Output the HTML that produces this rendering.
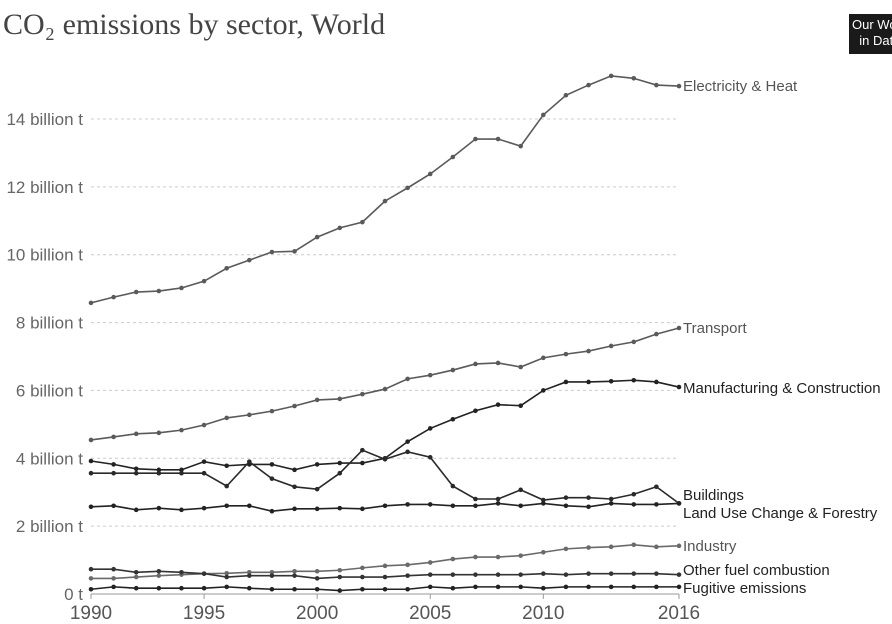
<!DOCTYPE html>
<html><head><meta charset="utf-8"><style>
body{margin:0;background:#fff;width:892px;height:624px;overflow:hidden;font-family:"Liberation Sans",sans-serif}
#title{position:absolute;left:3px;top:8px;font-family:"Liberation Serif",serif;font-size:30px;color:#444}
#logo{position:absolute;left:849px;top:14px;width:50px;height:40px;background:#1a1a1a;color:#fff;font-size:13px;line-height:16px;padding:3px 0 0 3px;box-sizing:border-box;overflow:hidden;white-space:nowrap}
</style></head><body>
<div id="title">CO₂ emissions by sector, World</div>
<div id="logo">Our World<br>&nbsp;&nbsp;in Data</div>
<svg id="chart" width="892" height="624" style="position:absolute;left:0;top:0"></svg>
<script>
const years=[1990,1991,1992,1993,1994,1995,1996,1997,1998,1999,2000,2001,2002,2003,2004,2005,2006,2007,2008,2009,2010,2011,2012,2013,2014,2015,2016];
const yTicks=[0,2,4,6,8,10,12,14];
const yTickLabels=["0 t","2 billion t","4 billion t","6 billion t","8 billion t","10 billion t","12 billion t","14 billion t"];
const xTicks=[1990,1995,2000,2005,2010,2016];
const electricity=[8.58,8.75,8.9,8.93,9.02,9.22,9.6,9.84,10.08,10.1,10.52,10.79,10.96,11.58,11.97,12.38,12.88,13.41,13.41,13.2,14.12,14.7,15.0,15.27,15.2,15.0,14.97];
const transport=[4.54,4.63,4.72,4.75,4.83,4.98,5.19,5.28,5.39,5.54,5.72,5.75,5.89,6.04,6.34,6.45,6.6,6.78,6.81,6.69,6.96,7.07,7.16,7.31,7.43,7.66,7.84];
const manufacturing=[3.92,3.82,3.69,3.66,3.66,3.9,3.78,3.82,3.82,3.66,3.82,3.86,3.86,4.0,4.49,4.88,5.15,5.4,5.58,5.55,6.0,6.25,6.25,6.27,6.3,6.25,6.1];
const buildings=[3.56,3.56,3.56,3.56,3.56,3.56,3.18,3.9,3.4,3.16,3.09,3.56,4.24,3.97,4.19,4.03,3.18,2.8,2.8,3.07,2.77,2.84,2.84,2.8,2.94,3.16,2.67];
const landUse=[2.57,2.6,2.48,2.53,2.48,2.53,2.6,2.6,2.44,2.51,2.51,2.53,2.51,2.6,2.64,2.64,2.6,2.6,2.67,2.6,2.67,2.6,2.57,2.67,2.64,2.64,2.67];
const industry=[0.46,0.46,0.5,0.54,0.57,0.6,0.61,0.64,0.64,0.67,0.67,0.7,0.77,0.83,0.86,0.93,1.03,1.09,1.09,1.13,1.23,1.33,1.37,1.39,1.45,1.39,1.42];
const otherFuel=[0.73,0.73,0.64,0.67,0.64,0.6,0.5,0.54,0.54,0.54,0.46,0.5,0.5,0.5,0.54,0.57,0.57,0.57,0.57,0.57,0.6,0.57,0.6,0.6,0.6,0.6,0.57];
const fugitive=[0.14,0.21,0.17,0.17,0.17,0.17,0.21,0.17,0.14,0.14,0.14,0.1,0.14,0.14,0.14,0.21,0.17,0.21,0.21,0.21,0.17,0.21,0.21,0.21,0.21,0.21,0.21];
const seriesNames=["Electricity & Heat","Transport","Manufacturing & Construction","Buildings","Land Use Change & Forestry","Industry","Other fuel combustion","Fugitive emissions"];
const seriesData=[electricity,transport,manufacturing,buildings,landUse,industry,otherFuel,fugitive];
const colors=["#5a5a5a","#5a5a5a","#222","#2a2a2a","#222","#6a6a6a","#333","#222"];
const labelY=[86,328,388,495,513,546,570,588];
const NS="http://www.w3.org/2000/svg";
const svg=document.getElementById('chart');
const x0=91,x1=679,y0=594,pxPerUnit=475/14;
const X=v=>x0+(v-1990)*(x1-x0)/26;
const Y=v=>y0-v*pxPerUnit;
function mk(t,a){const e=document.createElementNS(NS,t);for(const k in a)e.setAttribute(k,a[k]);svg.appendChild(e);return e;}
yTicks.forEach((t,i)=>{
  if(t>0){const g=mk('line',{x1:x0,x2:x1,y1:Y(t),y2:Y(t),stroke:'#ccc','stroke-dasharray':'3,3'});
  
  }
  const l=mk('text',{x:83,y:Y(t)+6,'text-anchor':'end','font-size':'17',fill:'#666'});
  l.textContent=yTickLabels[i];
  
  
});
const ax=mk('line',{x1:x0,x2:x1,y1:y0,y2:y0,stroke:'#999'});


xTicks.forEach(t=>{
  const tk=mk('line',{x1:X(t),x2:X(t),y1:y0,y2:y0+5,stroke:'#999'});
  
  
  const l=mk('text',{x:X(t),y:619,'text-anchor':'middle','font-size':'19',fill:'#555'});
  l.textContent=t;
  
  
});
seriesData.forEach((d,s)=>{
  const pts=d.map((v,i)=>X(years[i])+','+Y(v)).join(' ');
  const p=mk('polyline',{points:pts,fill:'none',stroke:colors[s],'stroke-width':'1.6'});
  
  
  d.forEach((v,i)=>{
    const c=mk('circle',{cx:X(years[i]),cy:Y(v),r:2.3,fill:colors[s]});
    
    
  });
  const t=mk('text',{x:683,y:labelY[s]+5,'font-size':'15',fill:colors[s]==="#5a5a5a"||colors[s]==="#6a6a6a"?'#555':'#222'});
  t.textContent=seriesNames[s];
  
  
});
</script>
</body></html>
